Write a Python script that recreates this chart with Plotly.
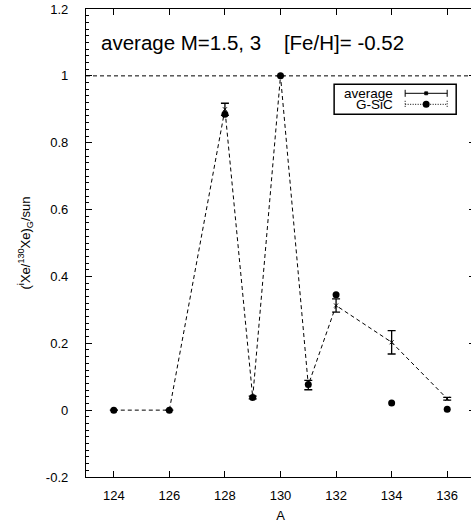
import plotly.graph_objects as go

# ---- data ----
mass_numbers = [124, 126, 128, 129, 130, 131, 132, 134, 136]
avg_values = [0.0, 0.0, 0.900, 0.038, 1.0, 0.075, 0.313, 0.203, 0.034]
avg_errors = [0.0, 0.0, 0.018, 0.004, 0.0, 0.014, 0.020, 0.035, 0.004]
gsic_values = [0.0, 0.0, 0.885, 0.038, 1.0, 0.077, 0.345, 0.021, 0.003]

x_tickvals = [124, 126, 128, 130, 132, 134, 136]
x_ticktext = ["124", "126", "128", "130", "132", "134", "136"]
y_tickvals = [-0.2, 0.0, 0.2, 0.4, 0.6, 0.8, 1.0, 1.2]
y_ticktext = ["-0.2", "0", "0.2", "0.4", "0.6", "0.8", "1", "1.2"]
reference_level = 1.0

title_text = "average M=1.5, 3\u00a0\u00a0\u00a0\u00a0[Fe/H]= -0.52"
legend_labels = ["average", "G-SiC"]

FONT = "Liberation Sans, Arial, Helvetica, sans-serif"
W, H = 480, 523              # slightly wider than the window: right frame is cut off
# plot area in pixels
PL, PR, PT, PB = 86, 474.8, 9.3, 476.7
L, R, T, B = PL, W - PR, PT, H - PB
PW, PH = PR - PL, PB - PT

def px(x):
    return (x - PL) / PW

def py(y):
    return 1 - (y - PT) / PH

fig = go.Figure()

# dashed line through the average values
fig.add_trace(go.Scatter(
    x=mass_numbers, y=avg_values, mode="lines",
    line=dict(color="black", width=1, dash="4px,3px"),
    showlegend=False, hoverinfo="skip"))

# average with error bars
fig.add_trace(go.Scatter(
    x=mass_numbers, y=avg_values, mode="markers",
    marker=dict(symbol="x-thin", size=4, color="black",
                line=dict(color="black", width=1)),
    error_y=dict(type="data", array=avg_errors, visible=True,
                 color="black", thickness=1.3, width=4),
    name=legend_labels[0], showlegend=False))

# G-SiC points
fig.add_trace(go.Scatter(
    x=mass_numbers, y=gsic_values, mode="markers",
    marker=dict(symbol="circle", size=7, color="black"),
    name=legend_labels[1], showlegend=False))

shapes = []
# reference dashed line at y=1
shapes.append(dict(type="line", xref="paper", yref="y", x0=0, x1=1,
                   y0=reference_level, y1=reference_level,
                   line=dict(color="black", width=1, dash="4px,3px")))

# custom gnuplot-like key
bx0, bx1, by0, by1 = 334, 456, 84.5, 114.5
shapes.append(dict(type="rect", xref="paper", yref="paper",
                   x0=px(bx0), x1=px(bx1), y0=py(by1), y1=py(by0),
                   line=dict(color="black", width=1.5), fillcolor="white"))
r1, r2 = 93.5, 104.5
sx0, sx1, sxc = 405, 447, 426
# row 1: error bar sample
shapes.append(dict(type="line", xref="paper", yref="paper",
                   x0=px(sx0), x1=px(sx1), y0=py(r1), y1=py(r1),
                   line=dict(color="black", width=1)))
for xx in (sx0, sx1):
    shapes.append(dict(type="line", xref="paper", yref="paper",
                       x0=px(xx), x1=px(xx), y0=py(r1 - 3.5), y1=py(r1 + 3.5),
                       line=dict(color="black", width=1)))
shapes.append(dict(type="rect", xref="paper", yref="paper",
                   x0=px(sxc - 1.5), x1=px(sxc + 1.5), y0=py(r1 + 1.5), y1=py(r1 - 1.5),
                   line=dict(color="black", width=0.8), fillcolor="black"))
# row 2: dotted sample with dot
shapes.append(dict(type="line", xref="paper", yref="paper",
                   x0=px(sx0), x1=px(sx1), y0=py(r2), y1=py(r2),
                   line=dict(color="black", width=1, dash="1px,1.5px")))
for xx in (sx0, sx1):
    shapes.append(dict(type="line", xref="paper", yref="paper",
                       x0=px(xx), x1=px(xx), y0=py(r2 - 3.5), y1=py(r2 + 3.5),
                       line=dict(color="black", width=1, dash="1px,1.5px")))
shapes.append(dict(type="circle", xref="paper", yref="paper",
                   x0=px(sxc - 3.5), x1=px(sxc + 3.5), y0=py(r2 + 3.5), y1=py(r2 - 3.5),
                   line=dict(color="black", width=0), fillcolor="black"))

annotations = [
    dict(text=title_text, xref="paper", yref="paper", x=px(99), y=py(43),
         xanchor="left", yanchor="middle", showarrow=False,
         font=dict(family=FONT, size=20.5, color="black")),
    dict(text=legend_labels[0], xref="paper", yref="paper", x=px(395), y=py(r1),
         xanchor="right", yanchor="middle", showarrow=False,
         font=dict(family=FONT, size=13.5, color="black")),
    dict(text=legend_labels[1], xref="paper", yref="paper", x=px(395), y=py(r2),
         xanchor="right", yanchor="middle", showarrow=False,
         font=dict(family=FONT, size=13.5, color="black")),
]

fig.update_layout(
    width=W, height=H,
    margin=dict(l=L, r=R, t=T, b=B, pad=0, autoexpand=False),
    paper_bgcolor="white", plot_bgcolor="white",
    font=dict(family=FONT, size=13, color="black"),
    shapes=shapes, annotations=annotations,
    showlegend=False,
    xaxis=dict(range=[123, 137], tickvals=x_tickvals, ticktext=x_ticktext,
               ticks="inside", ticklen=6, tickcolor="black", tickwidth=1,
               showline=True, linecolor="black", linewidth=1.3, mirror="ticks",
               showgrid=False, zeroline=False, ticklabelstandoff=6,
               automargin=False,
               title=dict(text="A", standoff=10, font=dict(size=13))),
    yaxis=dict(range=[-0.2, 1.2], tickvals=y_tickvals, ticktext=y_ticktext,
               ticks="inside", ticklen=6, tickcolor="black", tickwidth=1,
               showline=True, linecolor="black", linewidth=1.3, mirror="ticks",
               showgrid=False, zeroline=False, ticklabelstandoff=14,
               automargin=False,
               minor=dict(dtick=0.02, tick0=0, ticks="inside", ticklen=3,
                          tickcolor="black", showgrid=False),
               title=dict(text="(<sup>i</sup>Xe/<sup>130</sup>Xe)<sub>G</sub>/sun",
                          standoff=12, font=dict(size=13))),
)

fig.write_html(
    "out.html",
    config={"displayModeBar": False},
    post_script="document.body.style.margin='0';document.body.style.overflow='hidden';",
)
